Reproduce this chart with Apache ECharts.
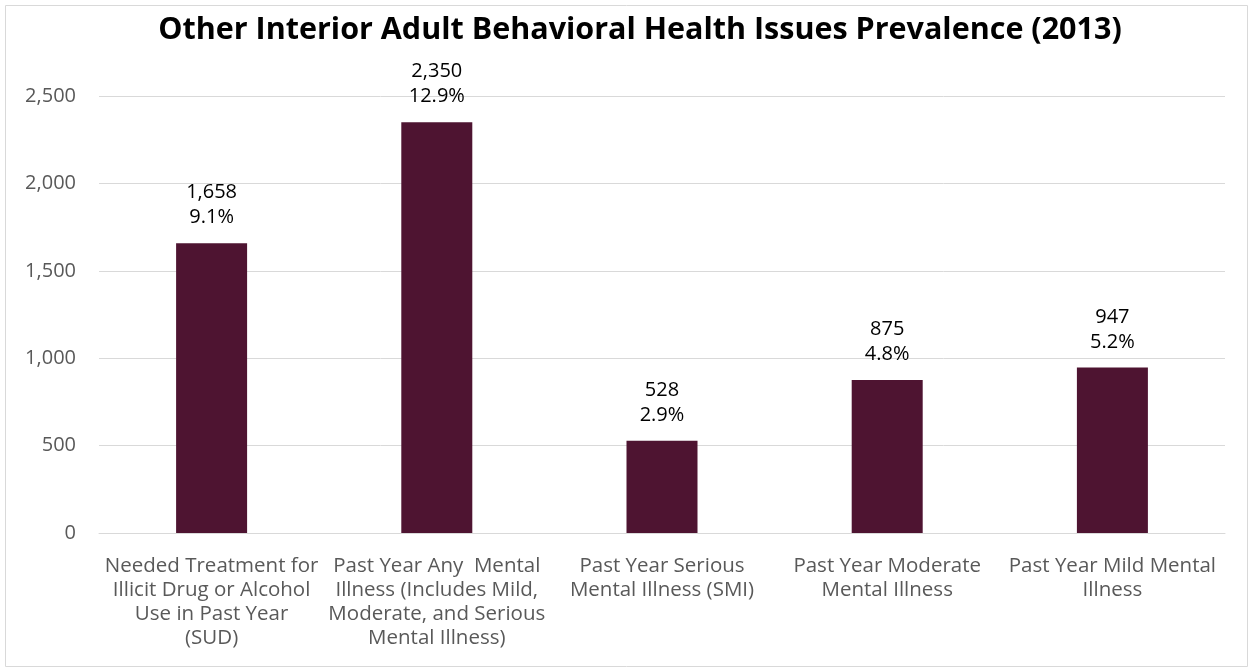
<!DOCTYPE html>
<html><head><meta charset="utf-8">
<script src="https://cdn.jsdelivr.net/npm/echarts@6/dist/echarts.min.js"></script>
<style>html,body{margin:0;padding:0;background:#fff}#c{width:1253px;height:672px}</style>
</head><body><div id="c"></div>
<script>
const titleText = "Other Interior Adult Behavioral Health Issues Prevalence (2013)";
const categories = [
  "Needed Treatment for\nIllicit Drug or Alcohol\nUse in Past Year\n(SUD)",
  "Past Year Any  Mental\nIllness (Includes Mild,\nModerate, and Serious\nMental Illness)",
  "Past Year Serious\nMental Illness (SMI)",
  "Past Year Moderate\nMental Illness",
  "Past Year Mild Mental\nIllness"
];
const values = [1658, 2350, 528, 875, 947];
const percents = ["9.1%", "12.9%", "2.9%", "4.8%", "5.2%"];
const yTicks = [0, 500, 1000, 1500, 2000, 2500];

const font = "'Open Sans', Lato, sans-serif";
const chart = echarts.init(document.getElementById('c'));
chart.setOption({
  animation: false,
  graphic: [
    {type:'rect', shape:{x:5.5,y:5.5,width:1242,height:661}, style:{fill:'none', stroke:'#d9d9d9', lineWidth:1}},
    {type:'text', x: 640, y: 30, style:{text: titleText, fill:'#000', font: "bold 30.5px 'Open Sans', Lato, sans-serif",
      textAlign:'center', textVerticalAlign:'middle'}}
  ],
  grid: {left: 99, right: 28, top: 96, bottom: 139},
  xAxis: {type: 'category', data: categories,
    axisLine: {lineStyle: {color: '#d9d9d9'}}, axisTick: {show: false},
    axisLabel: {interval: 0, color: '#595959', fontFamily: font, fontSize: 20.5, lineHeight: 24, margin: 21}},
  yAxis: {type: 'value', min: yTicks[0], max: yTicks[yTicks.length-1], interval: 500,
    axisLine: {show: false}, axisTick: {show: false},
    splitLine: {lineStyle: {color: '#d9d9d9'}},
    axisLabel: {color: '#595959', fontFamily: font, fontSize: 20, margin: 23,
      formatter: v => v.toLocaleString('en-US')}},
  series: [{type: 'bar', data: values, barWidth: 71, itemStyle: {color: '#4E1431'},
    label: {show: true, position: 'top', distance: 13, color: '#000', fontFamily: font, fontSize: 20, lineHeight: 25,
      formatter: p => p.value.toLocaleString('en-US') + "\n" + percents[p.dataIndex]}}]
});
</script></body></html>
